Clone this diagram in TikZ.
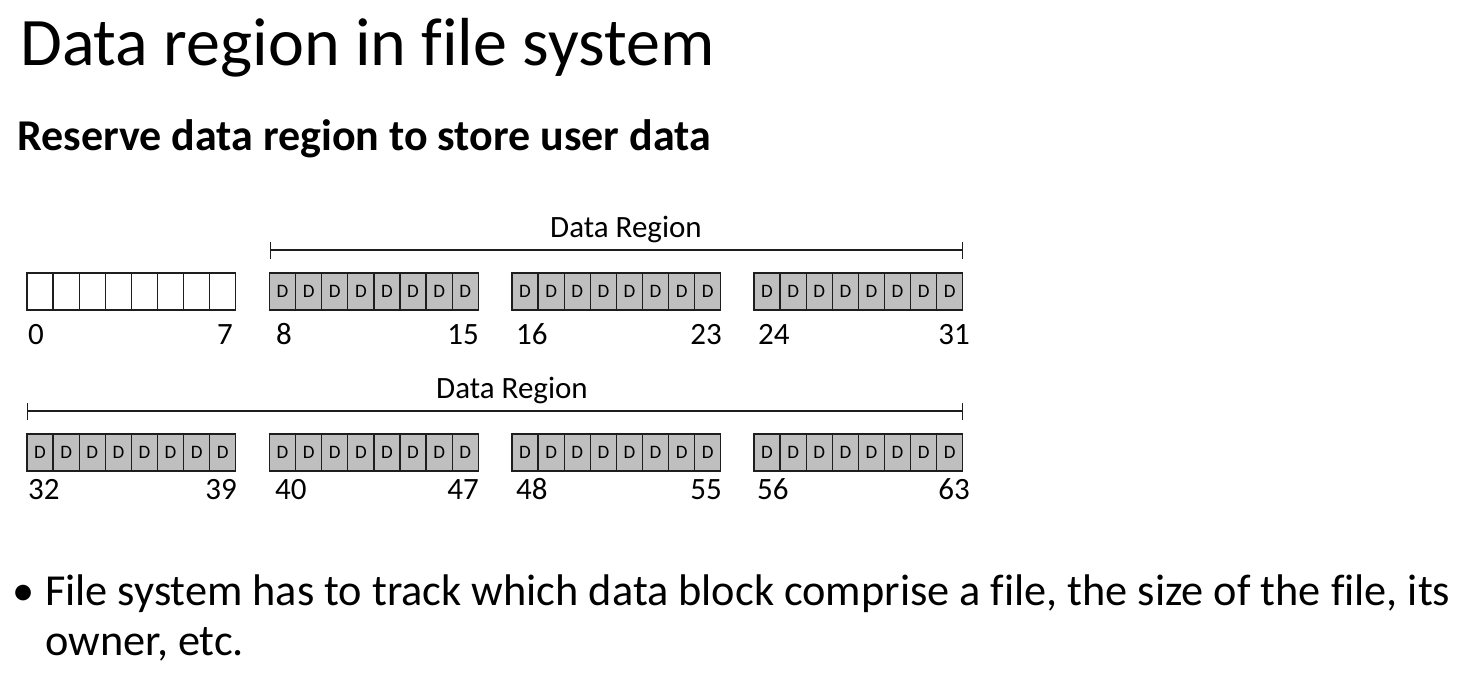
\documentclass[tikz,border=0pt]{standalone}
\usepackage{fontspec}
\setmainfont{Carlito}[Ligatures=CommonOff]
\usetikzlibrary{arrows.meta}
\definecolor{cellgray}{RGB}{191,191,191}
\definecolor{linegray}{RGB}{30,30,30}
\begin{document}
\begin{tikzpicture}[x=1pt,y=-1pt,
  cell/.style={draw=linegray, line width=1.3pt, minimum width=26.1pt, minimum height=37pt,
    inner sep=0pt, outer sep=0pt, anchor=north west, font=\fontsize{19}{19}\selectfont},
  dcell/.style={cell, fill=cellgray},
  num/.style={font=\fontsize{31}{31}\selectfont, inner sep=0pt},
  regionlabel/.style={font=\fontsize{31}{31}\selectfont, inner sep=0pt, anchor=base west},
  bracket/.style={line width=1.3pt, draw=linegray, {Bar[width=17pt,line width=1.3pt]}-{Bar[width=17pt,line width=1.3pt]}},
  titletext/.style={font=\fontsize{68}{74}\selectfont, inner sep=0pt, anchor=base west},
  subtitle/.style={font=\fontsize{44}{48}\bfseries\selectfont, inner sep=0pt, anchor=base west},
  bodytext/.style={font=\fontsize{44.3}{48}\selectfont, inner sep=0pt, anchor=base west}
]
\useasboundingbox (0,0) rectangle (1472,681);

% titles
\node[titletext] (title) at (20,65) {Data region in file system};
\node[subtitle] (sub) at (17,150) {Reserve data region to store user data};

% row 1
\foreach \i in {0,...,7} {
  \node[cell] (c1a\i) at ({27+26.1*\i},273) {};
}
\foreach \g/\gx in {b/269.5,c/512,d/754} {
  \foreach \i in {0,...,7} {
    \node[dcell] (c1\g\i) at ({\gx+26.1*\i},273) {D};
  }
}
% row 2
\foreach \g/\gx in {a/27,b/269.5,c/512,d/754} {
  \foreach \i in {0,...,7} {
    \node[dcell] (c2\g\i) at ({\gx+26.1*\i},434) {D};
  }
}

% brackets
\coordinate (br1l) at (269.5,250);
\coordinate (br1r) at (963,250);
\coordinate (br2l) at (27,411);
\coordinate (br2r) at (963,411);
\draw[bracket] (br1l) -- (br1r);
\draw[bracket] (br2l) -- (br2r);
\node[regionlabel] (lab1) at (550,237) {Data Region};
\node[regionlabel] (lab2) at (436,398) {Data Region};

% numbers row 1
\node[num, anchor=base west] (n0) at (28,344) {0};
\node[num, anchor=base east] (n7) at (233,344) {7};
\node[num, anchor=base west] (n8) at (276,344) {8};
\node[num, anchor=base east] (n15) at (479,344) {15};
\node[num, anchor=base west] (n16) at (516,344) {16};
\node[num, anchor=base east] (n23) at (722,344) {23};
\node[num, anchor=base west] (n24) at (758,344) {24};
\node[num, anchor=base east] (n31) at (970,344) {31};
% numbers row 2
\node[num, anchor=base west] (n32) at (28,499) {32};
\node[num, anchor=base east] (n39) at (237,499) {39};
\node[num, anchor=base west] (n40) at (275,499) {40};
\node[num, anchor=base east] (n47) at (479,499) {47};
\node[num, anchor=base west] (n48) at (516,499) {48};
\node[num, anchor=base east] (n55) at (722,499) {55};
\node[num, anchor=base west] (n56) at (757,499) {56};
\node[num, anchor=base east] (n63) at (970,499) {63};

% bullet text
\node[bodytext] (bul) at (12,605) {•};
\node[bodytext] (line1) at (45,605) {File system has to track which data block comprise a file, the size of the file, its};
\node[bodytext] (line2) at (45,655) {owner, etc.};
\end{tikzpicture}
\end{document}
